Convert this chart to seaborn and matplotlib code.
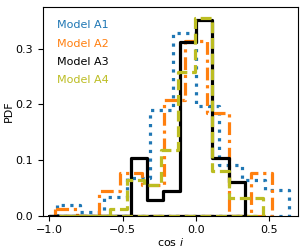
import numpy as np
import pandas as pd
import matplotlib
matplotlib.use("Agg")
import matplotlib.pyplot as plt
import seaborn as sns

models = ["Model A1", "Model A2", "Model A3", "Model A4"]
colors = ["tab:blue", "tab:orange", "black", "tab:olive"]
styles = [(0, (1, 1.7)), (0, (4, 1.5, 1, 1.5)), "-", (0, (3.4, 1.5))]

# bin edges and PDF heights
a1_edges = [-0.945, -0.7875, -0.63, -0.4725, -0.315, -0.1575, 0.0, 0.1575, 0.315, 0.4725, 0.63]
a1_pdf = [0.019, 0.007, 0.034, 0.068, 0.190, 0.328, 0.197, 0.091, 0.064, 0.046]

a2_edges = [-0.96, -0.812, -0.664, -0.516, -0.368, -0.22, -0.072, 0.076, 0.224, 0.372, 0.52]
a2_pdf = [0.012, 0.0, 0.045, 0.076, 0.055, 0.207, 0.313, 0.184, 0.0, 0.077]

a3_edges = [-1.0, -0.889, -0.778, -0.667, -0.556, -0.444, -0.333, -0.222, -0.111, 0.0, 0.111, 0.222, 0.333]
a3_pdf = [0.0, 0.0, 0.0, 0.0, 0.0, 0.104, 0.029, 0.044, 0.311, 0.352, 0.104, 0.060]

a4_edges = [-0.934, -0.818, -0.702, -0.586, -0.47, -0.354, -0.238, -0.122, -0.006, 0.11, 0.226, 0.343, 0.459]
a4_pdf = [0.0, 0.0, 0.0, 0.012, 0.064, 0.055, 0.118, 0.258, 0.354, 0.080, 0.032, 0.032]

all_edges = [a1_edges, a2_edges, a3_edges, a4_edges]
all_pdf = [a1_pdf, a2_pdf, a3_pdf, a4_pdf]

plt.rcParams["font.size"] = 8

fig, ax = plt.subplots(figsize=(3.07, 2.52), dpi=100)

for name, edges, pdf, c, ls in zip(models, all_edges, all_pdf, colors, styles):
    e = np.array(edges)
    centers = (e[:-1] + e[1:]) / 2
    df = pd.DataFrame({"cosi": centers, "pdf": pdf})
    # filled step with no face -> outline drops to zero at both ends
    sns.histplot(data=df, x="cosi", weights="pdf", bins=list(edges), element="step",
                 fill=True, color=c, facecolor="none", edgecolor=c, linestyle=ls,
                 linewidth=2.3, label=name, ax=ax)

ax.set_xlim(-1.045, 0.693)
ax.set_ylim(0, 0.374)
ax.set_xticks([-1.0, -0.5, 0.0, 0.5])
ax.set_yticks([0.0, 0.1, 0.2, 0.3])
ax.set_xlabel(r"cos $i$", fontsize=8, labelpad=0.5)
ax.set_ylabel("PDF", fontsize=8, labelpad=1)
ax.tick_params(labelsize=8)

leg = ax.legend(loc="upper left", frameon=False, handlelength=0, handletextpad=0,
                fontsize=8, labelcolor=colors, labelspacing=0.75,
                bbox_to_anchor=(0.017, 0.985))
for h in leg.legend_handles:
    h.set_visible(False)

fig.subplots_adjust(left=0.139, right=0.97, bottom=0.144, top=0.971)
fig.savefig("out.png", dpi=100)
